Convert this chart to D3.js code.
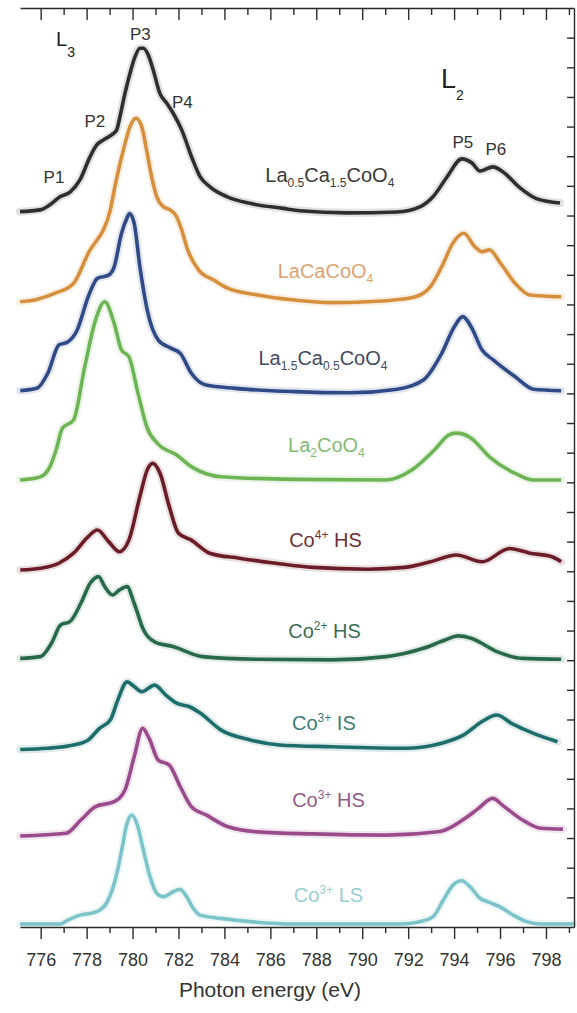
<!DOCTYPE html>
<html>
<head>
<meta charset="utf-8">
<script src="https://cdn.jsdelivr.net/npm/d3@7"></script>
<style>
  html, body { margin: 0; padding: 0; background: #ffffff; }
  svg { display: block; font-family: "Liberation Sans", Arial, Helvetica, sans-serif; }
</style>
</head>
<body>
<svg id="chart" width="577" height="1013"></svg>
<script>
// ---- Axis ticks ----------------------------------------------------------
const energyMajor = d3.range(776, 799, 2);        // labelled ticks (eV)
const energyMinor = d3.range(777, 800, 2);        // unlabelled ticks (eV)
const intensityTicks = d3.range(1, 31);           // right-hand ticks (arb. units, stacked)

// ---- Co L2,3 XAS spectra, [photon energy (eV), stacked intensity (arb. u.)] ----
const la05Ca15CoO4 = [
  [775.10, 24.13], [775.97, 24.19], [776.40, 24.36], [776.84, 24.63], [777.28, 24.79],
  [777.71, 25.20], [778.15, 25.98], [778.44, 26.38], [778.73, 26.55], [779.09, 26.72],
  [779.31, 26.89], [779.45, 27.33], [779.67, 28.12], [779.89, 28.80], [780.11, 29.36],
  [780.32, 29.64], [780.47, 29.64], [780.68, 29.42], [780.90, 28.91], [781.19, 28.12],
  [781.49, 27.79], [781.77, 27.45], [782.14, 26.89], [782.57, 25.98], [782.94, 25.31],
  [783.37, 24.97], [784.10, 24.64], [785.11, 24.41], [786.56, 24.24], [787.29, 24.16],
  [789.33, 24.09], [791.51, 24.12], [792.51, 24.29], [793.08, 24.63], [793.69, 25.30],
  [794.34, 25.91], [794.78, 25.77], [795.13, 25.50], [795.69, 25.64], [796.13, 25.47],
  [796.87, 24.93], [797.61, 24.56], [798.61, 24.42]
];

const laCaCoO4 = [
  [775.11, 21.09], [775.83, 21.17], [776.63, 21.38], [777.43, 21.71], [778.15, 22.84],
  [778.56, 23.29], [778.73, 23.51], [779.02, 24.15], [779.23, 24.97], [779.60, 26.21],
  [779.89, 27.00], [780.15, 27.28], [780.40, 27.00], [780.61, 26.21], [780.83, 25.31],
  [781.05, 24.64], [781.34, 24.30], [781.63, 24.19], [781.92, 23.96], [782.14, 23.51],
  [782.40, 22.84], [782.88, 22.16], [783.52, 21.83], [784.16, 21.54], [785.44, 21.32],
  [787.04, 21.15], [788.65, 21.06], [790.25, 21.09], [791.37, 21.15], [792.33, 21.26],
  [792.97, 21.60], [793.46, 22.27], [793.94, 23.06], [794.42, 23.40], [794.90, 22.95],
  [795.22, 22.78], [795.54, 22.84], [796.02, 22.39], [796.66, 21.71], [797.30, 21.32],
  [798.66, 21.26]
];

const la15Ca05CoO4 = [
  [775.11, 18.09], [775.83, 18.17], [776.31, 18.68], [776.79, 19.63], [777.19, 19.74],
  [777.59, 20.14], [778.07, 21.26], [778.47, 21.88], [778.96, 21.99], [779.20, 22.27],
  [779.52, 23.40], [779.76, 23.92], [779.87, 24.07], [780.07, 23.74], [780.32, 22.27],
  [780.64, 20.81], [781.12, 19.80], [781.68, 19.52], [782.08, 19.35], [782.56, 18.68],
  [783.20, 18.28], [784.48, 18.17], [787.04, 18.06], [789.45, 18.02], [791.53, 18.14],
  [792.66, 18.45], [793.46, 19.35], [794.01, 20.25], [794.38, 20.59], [794.74, 20.25],
  [795.22, 19.46], [795.70, 19.13], [796.66, 18.56], [797.46, 18.14], [798.66, 18.09]
];

const la2CoO4 = [
  [775.11, 15.08], [775.97, 15.18], [776.40, 15.52], [776.67, 16.09], [776.95, 16.83],
  [777.43, 17.10], [777.92, 18.90], [778.39, 20.48], [778.79, 21.09], [779.20, 20.36],
  [779.52, 19.46], [779.84, 19.24], [780.24, 18.00], [780.64, 16.83], [781.12, 16.29],
  [781.92, 15.92], [782.56, 15.53], [783.84, 15.19], [787.04, 15.10], [791.05, 15.08],
  [792.17, 15.42], [793.14, 16.09], [793.78, 16.60], [794.04, 16.66], [794.25, 16.65],
  [794.74, 16.49], [795.54, 15.86], [796.66, 15.30], [797.46, 15.08], [798.66, 15.08]
];

const co4HS = [
  [775.11, 12.04], [775.99, 12.10], [776.79, 12.27], [777.43, 12.61], [778.07, 13.17],
  [778.47, 13.39], [778.96, 13.00], [779.43, 12.66], [779.84, 13.05], [780.32, 14.52],
  [780.64, 15.42], [780.88, 15.64], [781.20, 15.30], [781.60, 14.18], [782.00, 13.28],
  [782.56, 13.05], [783.36, 12.61], [784.64, 12.44], [786.24, 12.27], [787.85, 12.13],
  [790.25, 12.07], [791.86, 12.13], [792.97, 12.32], [794.10, 12.55], [795.22, 12.32],
  [796.42, 12.77], [797.30, 12.61], [798.26, 12.49], [798.66, 12.32]
];

const co2HS = [
  [775.11, 9.06], [775.99, 9.12], [776.47, 9.57], [776.87, 10.19], [777.27, 10.30],
  [777.75, 10.92], [778.15, 11.59], [778.52, 11.82], [778.79, 11.48], [779.12, 11.20],
  [779.43, 11.37], [779.76, 11.48], [780.07, 10.92], [780.48, 10.02], [780.96, 9.62],
  [781.76, 9.46], [783.04, 9.12], [785.44, 9.03], [788.65, 9.01], [791.05, 9.12],
  [792.66, 9.40], [793.61, 9.68], [794.18, 9.82], [794.74, 9.74], [795.86, 9.29],
  [796.98, 9.06], [798.66, 9.03]
];

const co3IS = [
  [775.11, 5.99], [776.31, 6.03], [777.43, 6.14], [778.07, 6.31], [778.56, 6.70],
  [779.03, 6.98], [779.36, 7.66], [779.76, 8.27], [780.07, 8.11], [780.40, 7.94],
  [780.96, 8.16], [781.44, 7.83], [781.92, 7.55], [782.48, 7.43], [782.96, 7.21],
  [783.84, 6.65], [785.12, 6.31], [786.40, 6.14], [788.65, 6.08], [791.86, 6.03],
  [793.46, 6.20], [794.42, 6.48], [795.22, 6.93], [795.86, 7.15], [796.50, 6.87],
  [797.46, 6.53], [798.50, 6.25]
];

const co3HS = [
  [775.11, 3.07], [777.11, 3.16], [777.75, 3.61], [778.39, 4.06], [779.20, 4.23],
  [779.67, 4.62], [780.07, 5.74], [780.44, 6.70], [780.72, 6.37], [781.12, 5.63],
  [781.60, 5.46], [782.08, 4.73], [782.56, 4.06], [783.20, 3.78], [784.16, 3.38],
  [785.44, 3.21], [787.85, 3.14], [791.05, 3.10], [793.30, 3.21], [794.58, 3.72],
  [795.06, 4.00], [795.67, 4.34], [796.18, 4.06], [796.98, 3.61], [797.78, 3.33],
  [798.74, 3.30]
];

const co3LS = [
  [775.10, 0.10], [776.84, 0.10], [777.13, 0.21], [777.71, 0.40], [778.29, 0.48],
  [778.58, 0.57], [778.87, 0.81], [779.16, 1.36], [779.38, 2.03], [779.53, 2.60],
  [779.74, 3.44], [779.97, 3.78], [780.21, 3.44], [780.47, 2.60], [780.76, 1.70],
  [781.05, 1.14], [781.34, 1.02], [781.77, 1.19], [782.06, 1.27], [782.36, 1.02],
  [782.64, 0.63], [782.94, 0.40], [783.84, 0.29], [785.12, 0.18], [787.04, 0.10],
  [791.64, 0.10], [792.51, 0.18], [793.09, 0.35], [793.53, 0.91], [793.96, 1.42],
  [794.33, 1.56], [794.69, 1.36], [795.13, 0.97], [795.56, 0.82], [796.00, 0.68],
  [796.57, 0.40], [797.16, 0.18], [797.74, 0.10], [799.20, 0.10]
];

// Sample names (rich text: [text, "sub" | "sup" | ""])
const sampleNames = [
  [["La",""],["0.5","sub"],["Ca",""],["1.5","sub"],["CoO",""],["4","sub"]],
  [["LaCaCoO",""],["4","sub"]],
  [["La",""],["1.5","sub"],["Ca",""],["0.5","sub"],["CoO",""],["4","sub"]],
  [["La",""],["2","sub"],["CoO",""],["4","sub"]],
  [["Co",""],["4+","sup"],[" HS",""]],
  [["Co",""],["2+","sup"],[" HS",""]],
  [["Co",""],["3+","sup"],[" IS",""]],
  [["Co",""],["3+","sup"],[" HS",""]],
  [["Co",""],["3+","sup"],[" LS",""]]
];
const spectra = [la05Ca15CoO4, laCaCoO4, la15Ca05CoO4, la2CoO4, co4HS, co2HS, co3IS, co3HS, co3LS];

// Where each sample name sits, [energy, intensity] of its baseline centre
const nameAnchors = [
  [788.59, 25.13], [788.40, 21.89], [788.29, 18.96], [788.44, 16.02], [788.40, 12.82],
  [788.36, 9.75], [788.33, 6.65], [788.53, 4.05], [788.53, 0.84]
];

// Peak markers
const peakNames = ["P1", "P2", "P3", "P4", "P5", "P6"];
const peakAnchors = [
  [776.58, 25.10], [778.36, 26.99], [780.34, 29.92], [782.17, 27.63], [794.38, 26.28], [795.82, 26.04]
];

// Edge labels
const edgeNames = [[["L",""],["3","edge"]], [["L",""],["2","edge"]]];
const edgeAnchors = [[776.93, 29.72], [793.78, 28.30]];

// ---- Styling ---------------------------------------------------------------
const lineColors  = ["#2e2e2e", "#d68f3d", "#2f4a86", "#6db455", "#6a1d26", "#28694a", "#1d6e6b", "#994b8c", "#7cc4c9"];
const labelColors = ["#3a3a3a", "#dca272", "#414a64", "#84bb72", "#6e3036", "#3b6d54", "#3c7d7b", "#8f5b8b", "#99cfd3"];
const axisColor = "#2a2a2a";
const fontMain = 20, fontSub = 12;

// ---- Chart -----------------------------------------------------------------
const svg = d3.select("#chart");
const x = d3.scaleLinear().domain([775.1, 799.22]).range([20, 574]);
const y = d3.scaleLinear().domain([0, 31]).range([927, 8]);

const line = d3.line()
  .x(d => x(d[0]))
  .y(d => y(d[1]))
  .curve(d3.curveMonotoneX);

const curves = svg.append("g");
spectra.forEach((s, i) => {
  // soft halo under each trace
  curves.append("path")
    .attr("d", line(s))
    .attr("fill", "none")
    .attr("stroke", lineColors[i])
    .attr("stroke-opacity", 0.14)
    .attr("stroke-width", 8)
    .attr("stroke-linejoin", "round")
    .attr("stroke-linecap", "round");
  curves.append("path")
    .attr("d", line(s))
    .attr("fill", "none")
    .attr("stroke", lineColors[i])
    .attr("stroke-width", 3.6)
    .attr("stroke-linejoin", "round")
    .attr("stroke-linecap", "butt");
});

// ---- Axes ------------------------------------------------------------------
function styleAxis(g) {
  g.selectAll("path, line").attr("stroke", axisColor).attr("stroke-width", 1.4);
  g.selectAll("text").attr("fill", "#333").attr("font-size", 18)
    .attr("font-family", "\"Liberation Sans\", Arial, sans-serif");
}

// bottom: labelled majors, short minors (outward)
svg.append("g").attr("transform", `translate(0,${y(0)})`)
  .call(d3.axisBottom(x).tickValues(energyMajor).tickSizeInner(12).tickSizeOuter(0)
    .tickPadding(14).tickFormat(d3.format("d")))
  .call(styleAxis);
svg.append("g").attr("transform", `translate(0,${y(0)})`)
  .call(d3.axisBottom(x).tickValues(energyMinor).tickSizeInner(6).tickSizeOuter(0).tickFormat(""))
  .call(g => g.select(".domain").remove())
  .call(styleAxis);

// top: ticks pointing into the plot
svg.append("g").attr("transform", `translate(0,${y(31)})`)
  .call(d3.axisTop(x).tickValues(energyMajor).tickSizeInner(-12).tickSizeOuter(0).tickFormat(""))
  .call(styleAxis);
svg.append("g").attr("transform", `translate(0,${y(31)})`)
  .call(d3.axisTop(x).tickValues(energyMinor).tickSizeInner(-7).tickSizeOuter(0).tickFormat(""))
  .call(g => g.select(".domain").remove())
  .call(styleAxis);

// right: unlabelled intensity ticks pointing inward
svg.append("g").attr("transform", `translate(${x(799.22)},0)`)
  .call(d3.axisRight(y).tickValues(intensityTicks).tickSizeInner(-7).tickSizeOuter(0).tickFormat(""))
  .call(styleAxis);

// axis title
svg.append("text")
  .attr("x", 270).attr("y", 997)
  .attr("text-anchor", "middle")
  .attr("font-size", 21)
  .attr("fill", "#333")
  .text("Photon energy (eV)");

// ---- Rich text helper --------------------------------------------------------
function richText(parent, parts, px, py, opts) {
  const t = parent.append("text")
    .attr("x", px).attr("y", py)
    .attr("text-anchor", opts.anchor || "middle")
    .attr("font-size", opts.size)
    .attr("fill", opts.color);
  let shift = 0;
  parts.forEach(([txt, kind]) => {
    let target = 0, size = opts.size;
    if (kind === "sub") { target = opts.subShift; size = opts.subSize; }
    if (kind === "sup") { target = opts.supShift; size = opts.subSize; }
    if (kind === "edge") { target = opts.edgeShift; size = opts.edgeSize; }
    t.append("tspan")
      .attr("dy", target - shift)
      .attr("font-size", size)
      .text(txt);
    shift = target;
  });
  return t;
}

// sample names
const names = svg.append("g");
sampleNames.forEach((parts, i) => {
  const [e, v] = nameAnchors[i];
  richText(names, parts, x(e), y(v), {
    size: fontMain, subSize: fontSub, subShift: 5, supShift: -8, color: labelColors[i]
  });
});

// peak markers
const peaks = svg.append("g");
peakNames.forEach((p, i) => {
  const [e, v] = peakAnchors[i];
  peaks.append("text")
    .attr("x", x(e)).attr("y", y(v))
    .attr("text-anchor", "middle")
    .attr("font-size", 17)
    .attr("fill", "#333")
    .text(p);
});

// absorption edges
const edges = svg.append("g");
const edgeSizes = [20, 27];
edgeNames.forEach((parts, i) => {
  const [e, v] = edgeAnchors[i];
  richText(edges, parts, x(e) - edgeSizes[i] * 0.3, y(v), {
    anchor: "start", size: edgeSizes[i], edgeSize: 14, edgeShift: i === 0 ? 11 : 12,
    color: "#222"
  });
});
</script>
</body>
</html>
